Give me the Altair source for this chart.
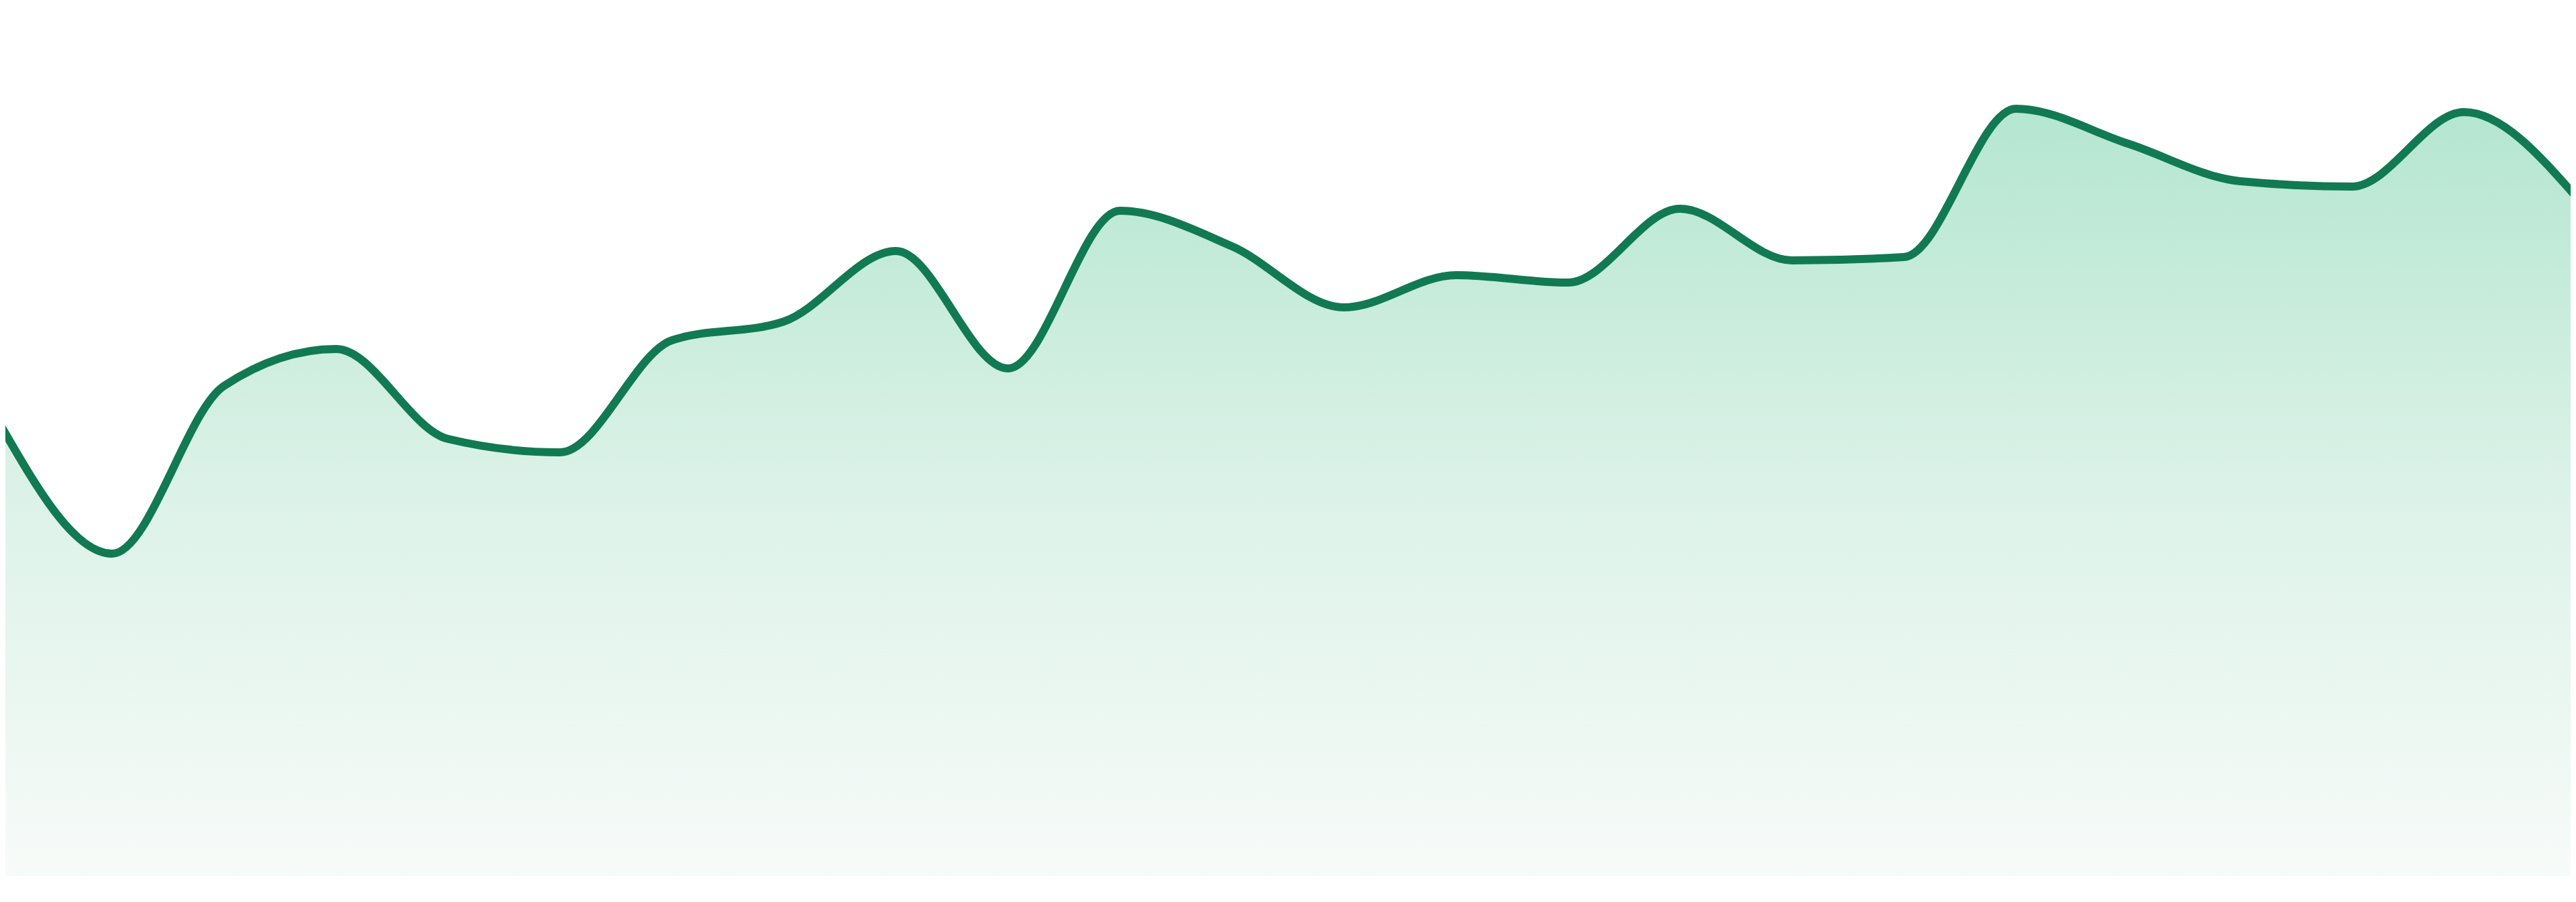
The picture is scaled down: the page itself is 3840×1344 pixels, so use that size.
import altair as alt
import pandas as pd

# Data (24 evenly spaced points)
idx = list(range(24))
values = [67.3, 48.0, 73.0, 78.5, 65.1, 63.1, 79.8, 82.6, 93.1, 75.6, 99.1, 93.8,
          84.7, 89.5, 88.4, 99.4, 91.7, 92.2, 114.3, 109.1, 103.5, 102.7, 113.8, 101.2]

df = pd.DataFrame({"i": idx, "v": values})

x_enc = alt.X("i:Q", axis=None,
              scale=alt.Scale(domain=[0.0479, 22.952], nice=False, zero=False))
y_enc = alt.Y("v:Q", axis=None,
              scale=alt.Scale(domain=[0, 129.7], nice=False, zero=True))

area = alt.Chart(df).mark_area(
    interpolate="monotone",
    clip=True,
    color=alt.Gradient(
        gradient="linear",
        stops=[
            alt.GradientStop(color="#b4e6d0", offset=0),
            alt.GradientStop(color="#dcf2e8", offset=0.5),
            alt.GradientStop(color="#f7fbf9", offset=1),
        ],
        x1=1, x2=1, y1=0, y2=1,
    ),
).encode(x=x_enc, y=y_enc)

line = alt.Chart(df).mark_line(
    interpolate="monotone",
    clip=True,
    color="#117a52",
    strokeWidth=12,
).encode(x=x_enc, y=y_enc)

chart = alt.layer(area, line).properties(
    width=3824,
    height=1297,
    padding=0,
    autosize=alt.AutoSizeParams(type="none"),
    background="white",
).configure_view(stroke=None)

chart.save("out.html", embed_options={"renderer": "svg", "actions": False})
